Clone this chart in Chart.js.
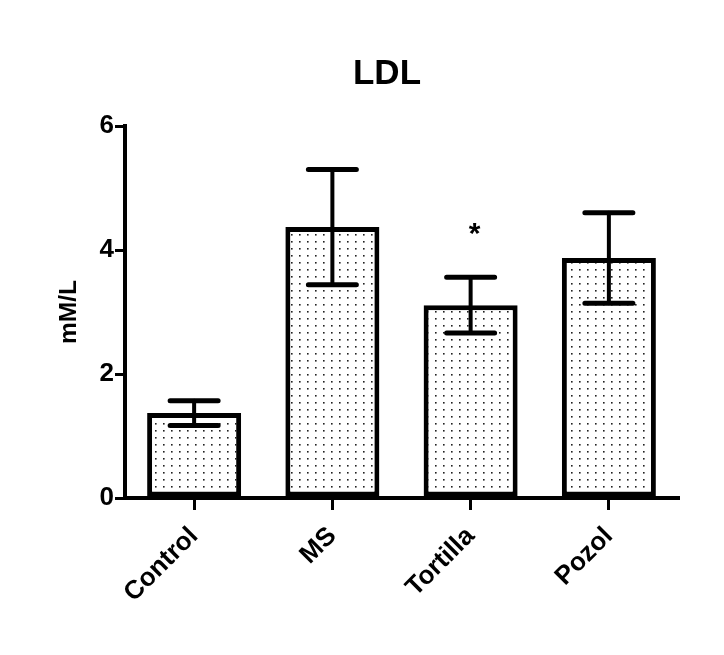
<!DOCTYPE html>
<html>
<head>
<meta charset="utf-8">
<style>
  html, body { margin: 0; padding: 0; background: #fff; }
  #wrap { width: 724px; height: 655px; }
</style>
<script src="https://cdn.jsdelivr.net/npm/chart.js@4/dist/chart.umd.min.js"></script>
</head>
<body>
<div id="wrap"><canvas id="c" width="724" height="655"></canvas></div>
<script>
// ---- data ----
const chartTitle = "LDL";
const categories = ["Control", "MS", "Tortilla", "Pozol"];
const meanValues = [1.37, 4.37, 3.11, 3.87];
const errorValues = [0.20, 0.93, 0.45, 0.73];
const significance = ["", "", "*", ""];
const yTicks = [0, 2, 4, 6];

const FONT = '"Liberation Sans", Arial, sans-serif';

// ---- dotted pattern ----
function makePattern() {
  const p = document.createElement('canvas');
  p.width = 8; p.height = 7;
  const g = p.getContext('2d');
  g.fillStyle = '#ffffff';
  g.fillRect(0, 0, 8, 7);
  g.fillStyle = '#222222';
  g.fillRect(3, 3, 1.6, 1.6);
  return g.createPattern(p, 'repeat');
}

const ctx = document.getElementById('c').getContext('2d');
const pattern = makePattern();

const titlePlugin = {
  id: 'centerTitle',
  afterDraw(chart) {
    const c = chart.ctx;
    c.save();
    c.fillStyle = '#000';
    c.font = 'bold 35px ' + FONT;
    c.textAlign = 'center';
    c.textBaseline = 'alphabetic';
    c.fillText(chartTitle, 387, 84);
    c.restore();
  }
};

const errorBarPlugin = {
  id: 'errorBars',
  afterDatasetsDraw(chart) {
    const { ctx, scales: { x, y } } = chart;
    ctx.save();
    ctx.strokeStyle = '#000';
    ctx.lineCap = 'round';
    meanValues.forEach((v, i) => {
      const cx = x.getPixelForValue(i);
      const top = y.getPixelForValue(v + errorValues[i]);
      const bot = y.getPixelForValue(v - errorValues[i]);
      const half = 24;
      ctx.lineWidth = 4;
      ctx.beginPath();
      ctx.moveTo(cx, top);
      ctx.lineTo(cx, bot);
      ctx.stroke();
      ctx.lineWidth = 5;
      ctx.beginPath();
      ctx.moveTo(cx - half, top); ctx.lineTo(cx + half, top);
      ctx.moveTo(cx - half, bot); ctx.lineTo(cx + half, bot);
      ctx.stroke();
      if (significance[i]) {
        ctx.fillStyle = '#000';
        ctx.font = 'bold 30px ' + FONT;
        ctx.textAlign = 'center';
        ctx.textBaseline = 'alphabetic';
        ctx.fillText(significance[i], cx + 4, top - 34);
      }
    });
    ctx.restore();
  }
};

new Chart(ctx, {
  type: 'bar',
  data: {
    labels: categories,
    datasets: [{
      data: meanValues,
      backgroundColor: pattern,
      borderColor: '#000',
      borderWidth: 5,
      borderSkipped: false,
      barPercentage: 0.68,
      categoryPercentage: 1.0
    }]
  },
  options: {
    responsive: false,
    animation: false,
    devicePixelRatio: 1,
    layout: { padding: { left: 0, right: 46, top: 126, bottom: 0 } },
    plugins: {
      legend: { display: false },
      tooltip: { enabled: false },
      title: { display: false }
    },
    scales: {
      x: {
        offset: true,
        grid: { display: true, drawOnChartArea: false, drawTicks: true, offset: false, tickLength: 12, color: '#000', lineWidth: 3 },
        border: { display: true, color: '#000', width: 4 },
        ticks: {
          color: '#000',
          maxRotation: 45, minRotation: 45,
          padding: 11,
          font: { family: FONT, size: 26, weight: 'bold' }
        },
        afterFit(scale) { scale.height = 157; }
      },
      y: {
        min: 0, max: 6,
        afterBuildTicks(scale) { scale.ticks = yTicks.map(v => ({ value: v })); },
        grid: { display: true, drawOnChartArea: false, drawTicks: true, tickLength: 10, color: '#000', lineWidth: 3 },
        border: { display: true, color: '#000', width: 4 },
        ticks: {
          color: '#000',
          padding: 1,
          font: { family: FONT, size: 26, weight: 'bold' }
        },
        title: {
          display: true,
          text: 'mM/L',
          color: '#000',
          font: { family: FONT, size: 24.5, weight: 'bold', lineHeight: 1.2 },
          padding: { top: 55, bottom: 0 }
        },
        afterFit(scale) { scale.width = 125; }
      }
    }
  },
  plugins: [errorBarPlugin, titlePlugin]
});
</script>
</body>
</html>
